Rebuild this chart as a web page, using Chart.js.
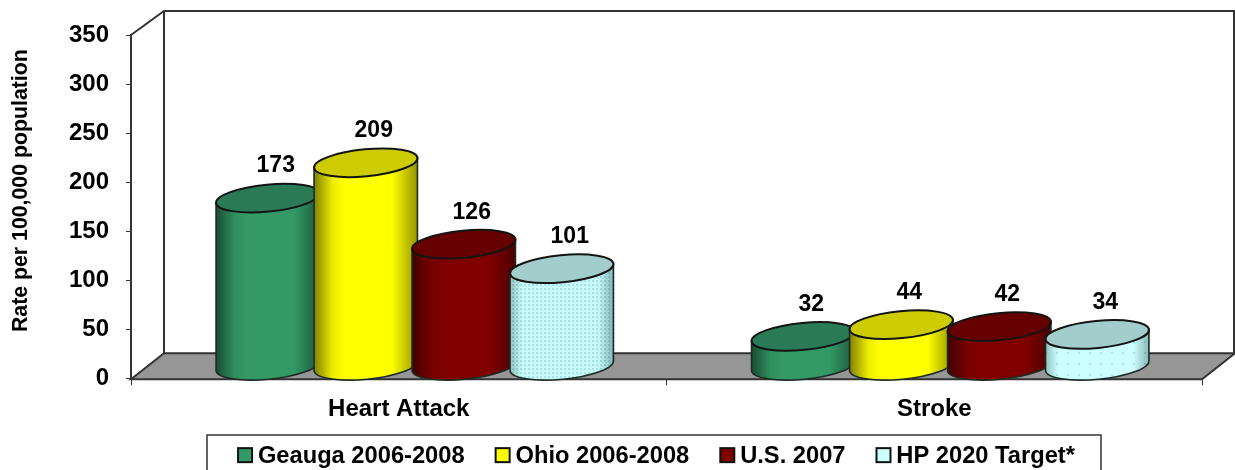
<!DOCTYPE html>
<html><head><meta charset="utf-8">
<style>html,body{margin:0;padding:0;background:#fff;overflow:hidden}canvas{display:block}</style>
<script src="https://cdn.jsdelivr.net/npm/chart.js@4"></script>
</head><body>
<canvas id="c" width="1235" height="470"></canvas>
<script>
const categories = ["Heart Attack", "Stroke"];
const seriesNames = ["Geauga 2006-2008", "Ohio 2006-2008", "U.S. 2007", "HP 2020 Target*"];
const geauga = [173, 32];
const ohio = [209, 44];
const us2007 = [126, 42];
const hp2020 = [101, 34];
const yTicks = [0, 50, 100, 150, 200, 250, 300, 350];
const yTitle = "Rate per 100,000 population";

const FONT = "'Liberation Sans', Arial, sans-serif";
const BODY = ["#339966", "#FFFF00", "#800000", "#CCFFFF"];
const TOP = ["#2A7B55", "#CCCC00", "#660000", "#A3CCCC"];
const DEPTH_X = 33, DEPTH_Y = 25;

function dotPattern(ctx, sparse) {
  const size = sparse ? 11 : 4;
  const p = document.createElement("canvas");
  p.width = p.height = size;
  const g = p.getContext("2d");
  g.fillStyle = "#CCFFFF"; g.fillRect(0, 0, size, size);
  g.fillStyle = "#A6E2E2";
  g.fillRect(0, 0, 2, 2);
  if (!sparse) g.fillRect(2, 2, 1, 1);
  return ctx.createPattern(p, "repeat");
}

const cylinderPlugin = {
  id: "cylinder",
  beforeDatasetsDraw(chart) {
    const ctx = chart.ctx, area = chart.chartArea;
    const l = area.left, r = area.right, t = area.top, b = area.bottom;
    ctx.save();
    ctx.strokeStyle = "#333";
    ctx.lineWidth = 2;
    ctx.beginPath();
    ctx.moveTo(l, t); ctx.lineTo(l + DEPTH_X, t - DEPTH_Y + 1);
    ctx.lineTo(r + DEPTH_X - 1, t - DEPTH_Y + 1);
    ctx.lineTo(r + DEPTH_X - 1, b - DEPTH_Y);
    ctx.stroke();
    ctx.beginPath();
    ctx.moveTo(l + DEPTH_X, t - DEPTH_Y + 1); ctx.lineTo(l + DEPTH_X, b - DEPTH_Y);
    ctx.stroke();
    ctx.fillStyle = "#969696";
    ctx.beginPath();
    ctx.moveTo(l, b + 1); ctx.lineTo(l + DEPTH_X, b - DEPTH_Y);
    ctx.lineTo(r + DEPTH_X, b - DEPTH_Y); ctx.lineTo(r, b + 1);
    ctx.closePath(); ctx.fill(); ctx.stroke();

    const rot = -5.5 * Math.PI / 180;
    for (let c = 0; c < categories.length; c++) {
      chart.data.datasets.forEach((ds, d) => {
        const el = chart.getDatasetMeta(d).data[c];
        const cx = el.x + 16, a = el.width * 0.53, e = 13.5;
        const yt = el.y - 10.5, yb = el.base - 12;
        const ca = Math.cos(rot) * a, sa = Math.sin(rot) * a;
        const path = () => {
          ctx.beginPath();
          ctx.ellipse(cx, yb, a, e, rot, 0, Math.PI);
          ctx.lineTo(cx - ca, yt - sa);
          ctx.lineTo(cx + ca, yt + sa);
          ctx.closePath();
        };
        path();
        ctx.fillStyle = d === 3 ? dotPattern(ctx, c === 1) : BODY[d];
        ctx.fill();
        const g = ctx.createLinearGradient(cx - a, 0, cx + a, 0);
        if (d === 3) {
          g.addColorStop(0, "rgba(0,60,60,.3)");
          g.addColorStop(0.12, "rgba(0,0,0,0)");
          g.addColorStop(0.85, "rgba(0,0,0,0)");
          g.addColorStop(1, "rgba(0,60,60,.35)");
        } else {
          g.addColorStop(0, "rgba(0,0,0,.5)");
          g.addColorStop(0.18, "rgba(0,0,0,.08)");
          g.addColorStop(0.3, "rgba(0,0,0,0)");
          g.addColorStop(0.75, "rgba(0,0,0,0)");
          g.addColorStop(1, "rgba(0,0,0,.42)");
        }
        path();
        ctx.fillStyle = g;
        ctx.fill();
        ctx.strokeStyle = "#1c2b26";
        ctx.lineWidth = 1.6;
        path(); ctx.stroke();
        ctx.beginPath();
        ctx.ellipse(cx, yt, a, e, rot, 0, Math.PI * 2);
        ctx.fillStyle = TOP[d];
        ctx.fill();
        ctx.lineWidth = 2;
        ctx.strokeStyle = "#141414";
        ctx.stroke();
      });
    }
    ctx.restore();
    return false;
  },
  afterLayout(chart) {
    const lg = chart.legend, dx = 55, dy = -16;
    lg.left += dx; lg.right += dx;
    lg.top += dy; lg.bottom += dy;
    lg.legendHitBoxes.forEach(h => { h.left += dx; h.top += dy; });
    const ys = chart.scales.y;
    const drawTitle = ys.drawTitle;
    ys.drawTitle = function () {
      chart.ctx.save();
      chart.ctx.translate(0, -16);
      drawTitle.call(this);
      chart.ctx.restore();
    };
  },
  afterDraw(chart) {
    const ctx = chart.ctx;
    ctx.save();
    ctx.fillStyle = "#000";
    ctx.font = "bold 23px " + FONT;
    ctx.textAlign = "center";
    ctx.textBaseline = "middle";
    chart.data.datasets.forEach((ds, d) => {
      chart.getDatasetMeta(d).data.forEach((el, i) => {
        ctx.fillText(String(ds.data[i]), el.x + 24, el.y - 42.5);
      });
    });
    const lg = chart.legend;
    ctx.strokeStyle = "#333";
    ctx.lineWidth = 1.5;
    ctx.strokeRect(207, 435, 894, 50);
    lg.legendHitBoxes.forEach((h, i) => {
      const y = h.top + h.height / 2 + 8;
      const x = h.left + 1;
      ctx.fillStyle = BODY[i];
      ctx.fillRect(x, y, 14, 14);
      ctx.strokeStyle = "#111";
      ctx.lineWidth = 2;
      ctx.strokeRect(x, y, 14, 14);
    });
    ctx.restore();
  }
};

new Chart(document.getElementById("c"), {
  type: "bar",
  data: {
    labels: categories,
    datasets: [geauga, ohio, us2007, hp2020].map((v, i) => ({
      label: seriesNames[i], data: v, backgroundColor: BODY[i]
    }))
  },
  plugins: [cylinderPlugin],
  options: {
    responsive: false,
    animation: false,
    events: [],
    layout: { padding: { left: 0, right: 33, top: 35, bottom: -24 } },
    datasets: { bar: { categoryPercentage: 0.732, barPercentage: 1 } },
    plugins: {
      tooltip: { enabled: false },
      legend: {
        position: "bottom",
        labels: {
          boxWidth: 9, boxHeight: 14, padding: 30, color: "#000",
          font: { family: FONT, weight: "bold", size: 23.7 },
          generateLabels: chart => chart.data.datasets.map((ds, i) => ({
            text: ds.label, datasetIndex: i,
            fillStyle: "rgba(0,0,0,0)", strokeStyle: "rgba(0,0,0,0)", lineWidth: 0
          }))
        }
      }
    },
    scales: {
      x: {
        offset: true,
        grid: { drawOnChartArea: false, drawTicks: true, tickLength: 7, color: "#333", offset: true },
        border: { color: "#333", width: 2 },
        ticks: { color: "#000", padding: 10, font: { family: FONT, weight: "bold", size: 24 } },
        afterFit: s => { s.height = 52; }
      },
      y: {
        min: 0, max: 350,
        afterBuildTicks: s => { s.ticks = yTicks.map(v => ({ value: v })); },
        grid: { drawOnChartArea: false, tickLength: 5, color: "#333" },
        border: { color: "#333", width: 2 },
        ticks: { color: "#000", padding: 17, font: { family: FONT, weight: "bold", size: 24 } },
        title: { display: true, text: yTitle, color: "#000", padding: { top: 8, bottom: 0 },
                 font: { family: FONT, weight: "bold", size: 21.3 } },
        afterFit: s => { s.width = 131; }
      }
    }
  }
});
</script>
</body></html>
